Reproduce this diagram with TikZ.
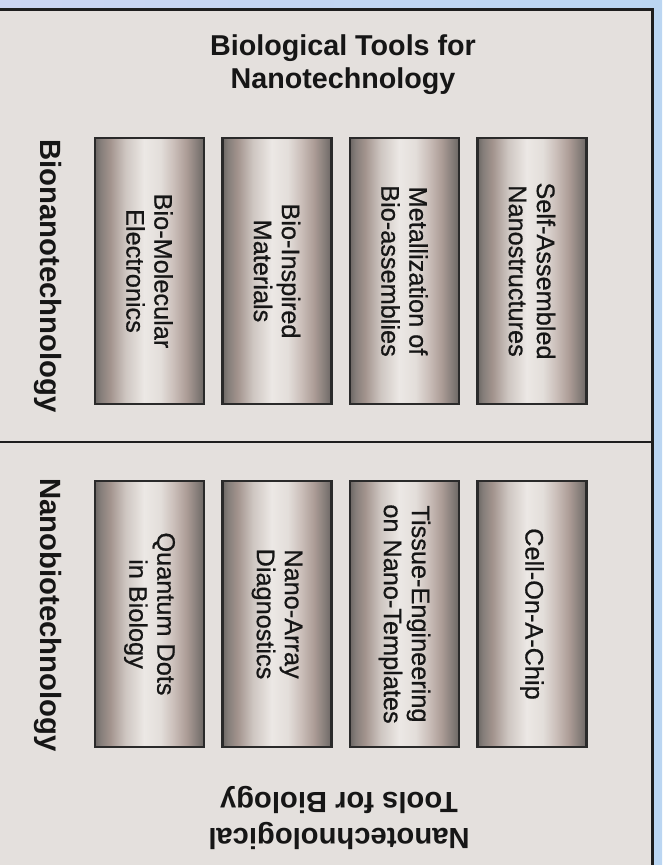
\documentclass[tikz,border=0pt]{standalone}
\usepackage{fontspec}
\setmainfont{Liberation Sans}
\newfontfamily\boxfont[FakeBold=0.7]{Liberation Sans}
\definecolor{bgA}{HTML}{CBD5F1}
\definecolor{bgB}{HTML}{BBD6F2}
\definecolor{panel}{HTML}{E4E0DD}
\definecolor{frame}{HTML}{1E1E1E}
\definecolor{boxline}{HTML}{2A2A2A}
\definecolor{ink}{HTML}{161616}
\definecolor{tA}{HTML}{6C6764}
\definecolor{tB}{HTML}{857E7A}
\definecolor{tC}{HTML}{A3948E}
\definecolor{tD}{HTML}{CEC6C1}
\definecolor{tE}{HTML}{ECE8E5}
\definecolor{tF}{HTML}{E3DEDA}
\definecolor{tG}{HTML}{CBBFBA}
\definecolor{tH}{HTML}{AC9C96}
\definecolor{tI}{HTML}{847C78}
\pgfdeclarehorizontalshading{tubeshade}{100bp}{color(0bp)=(tA); color(25bp)=(tA); color(27.5bp)=(tB); color(32bp)=(tC); color(39bp)=(tD); color(47.5bp)=(tE); color(55bp)=(tF); color(61bp)=(tG); color(67bp)=(tH); color(72bp)=(tI); color(75bp)=(tA); color(100bp)=(tA)}
\begin{document}
\begin{tikzpicture}[x=1pt,y=1pt,
  tubebox/.style={draw=boxline, line width=2.5pt, shading=tubeshade, minimum width=109pt, minimum height=266pt, inner sep=0pt},
  tubetext/.style={rotate=-90, align=center, font=\boxfont\fontsize{25.3}{28}\selectfont, text=ink, inner sep=0pt},
  heading/.style={rotate=-90, font=\fontsize{29.3}{33}\selectfont\bfseries, text=ink, inner sep=0pt},
  titletext/.style={align=center, font=\fontsize{28.7}{33}\selectfont\bfseries, text=ink, inner sep=0pt},
  bottomtext/.style={rotate=180, align=center, font=\fontsize{29.2}{36}\selectfont\bfseries, text=ink, inner sep=0pt}]
\useasboundingbox (0,0) rectangle (662,865);
\fill[left color=bgA, right color=bgB] (0,0) rectangle (662,865);
\draw[fill=panel, draw=frame, line width=3pt] (-5,-5) rectangle (652,855.5);
\coordinate (dl) at (0,423);
\coordinate (dr) at (650.5,423);
\draw[draw=frame, line width=2.5pt] (dl) -- (dr);
% title and bottom title
\node[titletext] (title) at (343,800) {Biological Tools for\\Nanotechnology};
\node[bottomtext] (bottom) at (339,47.5) {Nanotechnological\\Tools for Biology};
% side headings
\node[heading] (h1) at (48,589) {Bionanotechnology};
\node[heading] (h2) at (48,250) {Nanobiotechnology};
% top row
\node[tubebox] (b1) at (149.5,594) {};
\node[tubebox] (b2) at (277,594) {};
\node[tubebox] (b3) at (404.5,594) {};
\node[tubebox] (b4) at (532,594) {};
\node[tubetext] (t1) at (b1) {Bio-Molecular\\Electronics};
\node[tubetext] (t2) at (b2) {Bio-Inspired\\Materials};
\node[tubetext] (t3) at (b3) {Metallization of\\Bio-assemblies};
\node[tubetext] (t4) at (b4) {Self-Assembled\\Nanostructures};
% bottom row
\node[tubebox] (c1) at (149.5,251) {};
\node[tubebox] (c2) at (277,251) {};
\node[tubebox] (c3) at (404.5,251) {};
\node[tubebox] (c4) at (532,251) {};
\node[tubetext] (u1) at (c1) {Quantum Dots\\in Biology};
\node[tubetext] (u2) at (c2) {Nano-Array\\Diagnostics};
\node[tubetext] (u3) at (c3) {Tissue-Engineering\\on Nano-Templates};
\node[tubetext] (u4) at (c4) {Cell-On-A-Chip};
\end{tikzpicture}
\end{document}
